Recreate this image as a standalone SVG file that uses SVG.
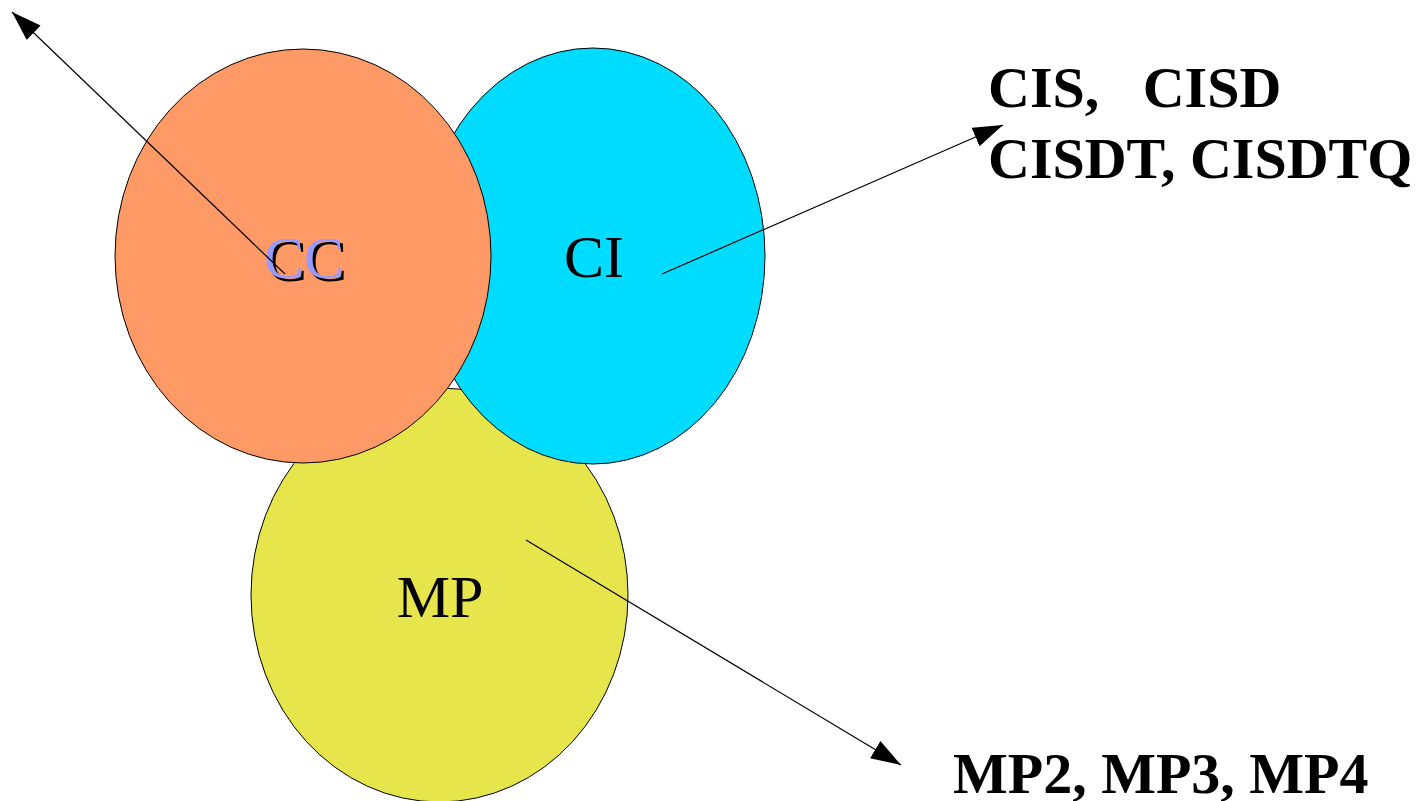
<svg xmlns="http://www.w3.org/2000/svg" width="1420" height="801" viewBox="0 0 1420 801">
<style>
.node{stroke:#000;stroke-width:1}
.lbl{font-family:"Liberation Serif",serif;font-size:60px;text-anchor:middle}
.big{font-family:"Liberation Serif",serif;font-size:58px;font-weight:bold;fill:#000}
.conn{stroke:#000;stroke-width:1.2;fill:none;marker-end:url(#arr)}
</style>
<defs>
<marker id="arr" markerUnits="userSpaceOnUse" markerWidth="32" markerHeight="22" refX="30" refY="10" orient="auto" viewBox="0 0 32 22">
<path d="M0,0 L30,10 L0,20 z" fill="#000"/>
</marker>
</defs>
<rect width="1420" height="801" fill="#fff"/>
<g id="node-MP">
<ellipse class="node" cx="439.5" cy="595" rx="188.5" ry="207" fill="#e6e64c"/>
<text class="lbl" x="440" y="617">MP</text>
</g>
<g id="node-CI">
<ellipse class="node" cx="593" cy="256" rx="172" ry="208" fill="#00dcff"/>
<text class="lbl" x="594" y="277">CI</text>
</g>
<g id="node-CC">
<ellipse class="node" cx="303" cy="256" rx="188" ry="207" fill="#ff9966"/>
<text class="lbl" x="307" y="281" fill="#000">CC</text>
<text class="lbl" x="304" y="278" fill="#9999ff">CC</text>
</g>
<g id="connectors">
<line class="conn" x1="285" y1="274" x2="12" y2="12"/>
<line class="conn" x1="662" y1="274" x2="1003" y2="125"/>
<line class="conn" x1="526" y1="540" x2="901" y2="765"/>
</g>
<g id="labels">
<text class="big" x="988" y="107" xml:space="preserve">CIS,   CISD</text>
<text class="big" x="988" y="178">CISDT, CISDTQ</text>
<text class="big" x="953" y="793">MP2, MP3, MP4</text>
</g>
</svg>
